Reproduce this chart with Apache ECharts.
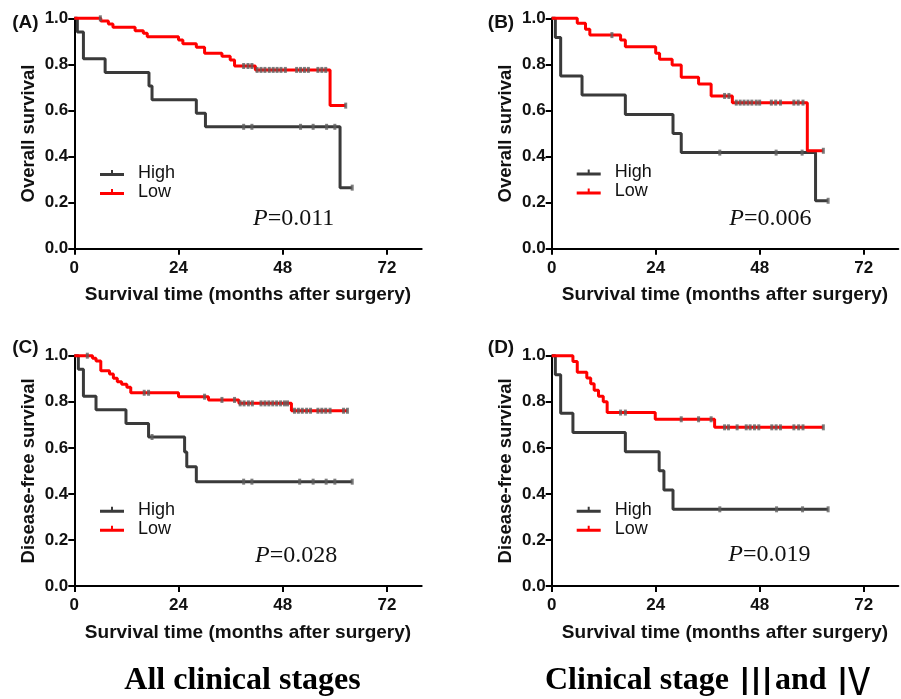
<!DOCTYPE html>
<html><head><meta charset="utf-8">
<script src="https://cdn.jsdelivr.net/npm/echarts/dist/echarts.min.js"></script>
<style>html,body{margin:0;padding:0;background:#fff}#c{width:901px;height:699px}</style>
</head><body><div id="c"></div>
<script>
// ---- tick labels ----
const xTicks = [0, 24, 48, 72];
const yTicks = [0, 0.2, 0.4, 0.6, 0.8, 1.0];
const panelLabels = ['(A)', '(B)', '(C)', '(D)'];
const yTitles = ['Overall survival', 'Overall survival', 'Disease-free survival', 'Disease-free survival'];
const xTitle = 'Survival time (months after surgery)';
const pValues = ['0.011', '0.006', '0.028', '0.019'];
const groupNames = ['High', 'Low'];
const bottomLeftTitle = 'All clinical stages';
const bottomRightParts = ['Clinical stage ', '\u2162', 'and ', '\u2163'];

// ---- Panel A: overall survival, all stages ----
const aHighTimes = [0.7, 2.1, 7.1, 17.2, 17.9, 28.1, 30.2, 61.2];
const aHighSurv  = [0.941, 0.824, 0.765, 0.706, 0.647, 0.588, 0.529, 0.265];
const aHighCens  = [39.0, 40.9, 52.1, 55.0, 58.1, 60.0, 64.0];
const aLowTimes  = [6.1, 7.85, 8.9, 14.0, 15.9, 16.8, 24.0, 25.0, 28.1, 30.0, 34.0, 35.9, 36.9, 41.7, 58.9];
const aLowSurv   = [0.988, 0.975, 0.961, 0.946, 0.935, 0.920, 0.906, 0.890, 0.874, 0.848, 0.835, 0.819, 0.793, 0.776, 0.621];
const aLowCens   = [6.0, 39.0, 40.0, 40.9, 42.1, 43.0, 43.9, 44.9, 45.8, 46.7, 47.6, 48.6, 51.2, 52.1, 53.0, 53.9, 56.1, 57.0, 57.9, 62.5];

// ---- Panel B: overall survival, stage III and IV ----
const bHighTimes = [0.84, 2.07, 7.0, 17.0, 28.0, 29.9, 60.9];
const bHighSurv  = [0.917, 0.750, 0.667, 0.583, 0.500, 0.417, 0.208];
const bHighCens  = [38.8, 51.8, 57.8, 63.8];
const bLowTimes  = [5.9, 7.8, 8.8, 15.9, 17.0, 24.0, 24.9, 27.8, 29.9, 33.9, 36.8, 41.7, 59.0];
const bLowSurv   = [0.978, 0.952, 0.927, 0.906, 0.877, 0.848, 0.822, 0.797, 0.744, 0.715, 0.663, 0.634, 0.425];
const bLowCens   = [13.9, 39.9, 40.9, 42.6, 43.5, 44.4, 45.3, 46.2, 47.2, 48.0, 50.7, 51.7, 52.8, 55.9, 56.9, 58.0, 62.7];

// ---- Panel C: disease-free survival, all stages ----
const cHighTimes = [0.93, 2.1, 5.0, 11.9, 17.1, 25.4, 25.9, 28.1];
const cHighSurv  = [0.941, 0.824, 0.765, 0.706, 0.647, 0.582, 0.518, 0.453];
const cHighCens  = [17.9, 39.0, 40.9, 51.9, 55.0, 58.0, 60.0, 64.0];
const cLowTimes  = [4.2, 5.0, 6.1, 8.1, 9.0, 9.9, 10.9, 12.1, 13.0, 24.0, 30.9, 37.9, 50.0];
const cLowSurv   = [0.989, 0.977, 0.935, 0.920, 0.902, 0.887, 0.876, 0.863, 0.839, 0.822, 0.808, 0.793, 0.761];
const cLowCens   = [3.0, 16.1, 17.1, 30.0, 34.0, 36.9, 38.2, 39.1, 40.1, 41.0, 43.0, 43.9, 44.8, 45.7, 46.6, 47.5, 48.4, 49.1, 50.7, 51.6, 52.5, 53.5, 54.4, 56.1, 57.0, 57.9, 58.9, 62.0, 62.9];

// ---- Panel D: disease-free survival, stage III and IV ----
const dHighTimes = [0.84, 2.07, 4.9, 17.0, 24.8, 25.9, 28.0];
const dHighSurv  = [0.917, 0.750, 0.667, 0.583, 0.500, 0.417, 0.333];
const dHighCens  = [38.8, 51.9, 57.9, 63.8];
const dLowTimes  = [4.9, 5.9, 8.1, 9.0, 9.8, 10.8, 11.9, 12.8, 23.9, 37.6];
const dLowSurv   = [0.975, 0.928, 0.903, 0.878, 0.850, 0.824, 0.800, 0.753, 0.724, 0.689];
const dLowCens   = [15.9, 17.0, 29.9, 33.9, 36.8, 39.9, 40.8, 42.8, 44.9, 45.8, 46.8, 47.8, 50.8, 51.8, 52.8, 55.9, 57.0, 58.0, 62.7];

const panels = [
  {high: [aHighTimes, aHighSurv, aHighCens], low: [aLowTimes, aLowSurv, aLowCens]},
  {high: [bHighTimes, bHighSurv, bHighCens], low: [bLowTimes, bLowSurv, bLowCens]},
  {high: [cHighTimes, cHighSurv, cHighCens], low: [cLowTimes, cLowSurv, cLowCens]},
  {high: [dHighTimes, dHighSurv, dHighCens], low: [dLowTimes, dLowSurv, dLowCens]}
];

// ---- layout ----
const grids = [
  {left: 74.3, top: 18.3, width: 347.4, height: 230.4},
  {left: 551.7, top: 18.3, width: 346.6, height: 230.4},
  {left: 74.3, top: 355.7, width: 347.4, height: 230.3},
  {left: 551.7, top: 355.7, width: 346.6, height: 230.3}
];
const legendPos = [
  {left: 100, top: 163.5},
  {left: 576.7, top: 163},
  {left: 100, top: 500.3},
  {left: 576.7, top: 500.3}
];
const pPos = [[253, 218.3], [729.3, 218.3], [255, 555.9], [728.3, 555.0]];
const labelPos = [[12.2, 22.3], [487.8, 22.3], [12.2, 348], [487.8, 348]];

const HIGH_COLOR = '#3a3a3a';
const LOW_COLOR = '#ff0000';
const CENS_COLOR = '#5e5e5e';
const SANS = '"Liberation Sans", Arial, sans-serif';
const SERIF = '"Liberation Serif", "Times New Roman", serif';

function stepData(times, surv, cens) {
  const d = [[0, 1]];
  times.forEach((t, i) => d.push([t, surv[i]]));
  const endT = Math.max(times[times.length - 1], ...cens);
  d.push([endT, surv[surv.length - 1]]);
  return d;
}
function survAt(times, surv, t) {
  let s = 1;
  for (let i = 0; i < times.length; i++) if (times[i] <= t) s = surv[i];
  return s;
}
function censData(times, surv, cens) {
  return cens.map(t => [t, survAt(times, surv, t)]);
}

const xAxes = [], yAxes = [], series = [], legends = [], graphics = [];
grids.forEach((g, p) => {
  xAxes.push({
    type: 'value', gridIndex: p, min: 0, max: 80, interval: 24,
    name: xTitle, nameLocation: 'middle', nameGap: 37,
    nameTextStyle: {fontFamily: SANS, fontWeight: 'bold', fontSize: 19, color: '#111'},
    axisLine: {show: true, onZero: false, lineStyle: {color: '#000', width: 2}},
    axisTick: {show: true, length: 6, lineStyle: {color: '#000', width: 2}, customValues: xTicks},
    axisLabel: {customValues: xTicks, margin: 11, fontFamily: SANS, fontWeight: 'bold', fontSize: 17, color: '#111'},
    splitLine: {show: false}
  });
  yAxes.push({
    type: 'value', gridIndex: p, min: 0, max: 1, interval: 0.2,
    name: yTitles[p], nameLocation: 'middle', nameGap: 36,
    nameTextStyle: {fontFamily: SANS, fontWeight: 'bold', fontSize: 18.5, color: '#111'},
    axisLine: {show: true, onZero: false, lineStyle: {color: '#000', width: 2}},
    axisTick: {show: true, length: 6, lineStyle: {color: '#000', width: 2}},
    axisLabel: {margin: 6, fontFamily: SANS, fontWeight: 'bold', fontSize: 17, color: '#111',
      formatter: v => v.toFixed(1)},
    splitLine: {show: false}
  });
  const pd = panels[p];
  [['High', pd.high, HIGH_COLOR], ['Low', pd.low, LOW_COLOR]].forEach(([name, arr, col]) => {
    series.push({
      type: 'line', name: name, xAxisIndex: p, yAxisIndex: p, step: 'end',
      data: stepData(arr[0], arr[1], arr[2]), symbol: 'none', clip: false,
      lineStyle: {color: col, width: 3}, itemStyle: {color: col},
      z: name === 'Low' ? 3 : 2, animation: false, silent: true
    });
  });
  [pd.high, pd.low].forEach((arr, k) => {
    series.push({
      type: 'scatter', name: groupNames[k] + ' censored', xAxisIndex: p, yAxisIndex: p,
      data: censData(arr[0], arr[1], arr[2]), symbol: 'rect', symbolSize: [3, 6],
      itemStyle: {color: CENS_COLOR}, clip: false, z: 5, animation: false, silent: true
    });
  });
  legends.push({
    data: groupNames, orient: 'vertical', left: legendPos[p].left, top: legendPos[p].top,
    padding: 0, itemWidth: 24, itemHeight: 6, itemGap: 0, selectedMode: false,
    icon: 'path://M0,3L24,3L24,6L0,6ZM11,0L13,0L13,3L11,3Z',
    formatter: '{a|{name}}',
    textStyle: {fontFamily: SANS, fontSize: 18, color: '#111', lineHeight: 19,
      rich: {a: {fontFamily: SANS, fontSize: 18, color: '#111', lineHeight: 19, padding: [0, 0, 0, 9]}}}
  });
  graphics.push({
    type: 'text', x: pPos[p][0], y: pPos[p][1],
    style: {text: '{i|P}=' + pValues[p], fill: '#111', font: '24px ' + SERIF, verticalAlign: 'middle',
      rich: {i: {fontStyle: 'italic', fontFamily: SERIF, fontSize: 24, fill: '#111'}}}
  });
  graphics.push({
    type: 'text', x: labelPos[p][0], y: labelPos[p][1],
    style: {text: panelLabels[p], fill: '#111', font: 'bold 19px ' + SANS, verticalAlign: 'middle'}
  });
});
graphics.push({
  type: 'text', x: 242.5, y: 681,
  style: {text: bottomLeftTitle, fill: '#000', font: 'bold 32px ' + SERIF, align: 'center', verticalAlign: 'middle'}
});
graphics.push({
  type: 'text', x: 545, y: 681,
  style: {
    text: bottomRightParts[0] + '{r|' + bottomRightParts[1] + '}' + bottomRightParts[2] + '{r|' + bottomRightParts[3] + '}',
    fill: '#000', font: 'bold 32px ' + SERIF, align: 'left', verticalAlign: 'middle',
    rich: {r: {fontFamily: '"Noto Sans CJK SC", sans-serif', fontWeight: 'normal', fontSize: 38, fill: '#000'}}
  }
});

const chart = echarts.init(document.getElementById('c'), null, {renderer: 'canvas'});
chart.setOption({
  animation: false,
  backgroundColor: '#fff',
  grid: grids.map(g => Object.assign({outerBoundsMode: 'none', containLabel: false}, g)),
  xAxis: xAxes, yAxis: yAxes, series: series, legend: legends, graphic: graphics
});
</script></body></html>
